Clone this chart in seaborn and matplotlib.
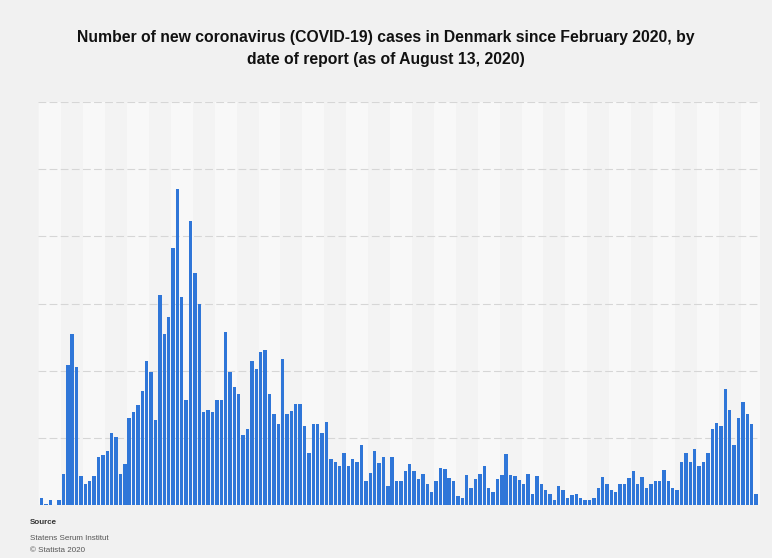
import numpy as np
import pandas as pd
import matplotlib
matplotlib.use("Agg")
import matplotlib.pyplot as plt
import seaborn as sns

# ---- data ----
new_cases = [
    11, 2, 8, 0, 8, 46, 208, 254, 205, 43,
    32, 35, 43, 72, 74, 81, 107, 101, 46, 61,
    130, 139, 149, 169, 215, 198, 126, 312, 254, 280,
    382, 471, 310, 156, 423, 346, 300, 139, 142, 139,
    156, 156, 258, 198, 176, 166, 104, 113, 215, 202,
    228, 231, 165, 136, 121, 218, 135, 140, 150, 150,
    117, 77, 121, 121, 107, 124, 68, 64, 58, 77,
    58, 68, 64, 90, 35, 48, 80, 62, 71, 28,
    72, 35, 35, 51, 61, 51, 38, 46, 32, 20,
    35, 55, 53, 40, 35, 13, 11, 45, 25, 38,
    46, 58, 25, 20, 38, 45, 76, 45, 43, 37,
    32, 46, 17, 43, 32, 22, 17, 8, 28, 22,
    11, 15, 17, 11, 8, 8, 11, 25, 41, 32,
    22, 20, 32, 32, 40, 51, 32, 41, 25, 32,
    35, 35, 52, 35, 25, 22, 64, 78, 64, 84,
    58, 64, 78, 113, 122, 117, 172, 142, 89, 130,
    153, 136, 121, 17,
]
report_dates = pd.date_range(end="2020-08-13", periods=len(new_cases)).strftime("%Y-%m-%d").tolist()

title = ("Number of new coronavirus (COVID-19) cases in Denmark since February 2020, by\n"
         "date of report (as of August 13, 2020)")
y_gridlines = [100, 200, 300, 400, 500, 600]

df = pd.DataFrame({"date": report_dates, "cases": new_cases})

# ---- figure ----
fig = plt.figure(figsize=(7.72, 5.58), dpi=100, facecolor="#f1f1f1")
ax = fig.add_axes([38 / 772, 1 - 505 / 558, (760 - 38) / 772, (505 - 102) / 558])
ax.set_facecolor("#f3f3f3")

n = len(new_cases)
for i, start in enumerate(range(0, n, 5)):
    if i % 2 == 0:
        ax.axvspan(start - 0.5, start + 4.5, color="#f8f8f8", zorder=0, lw=0)

sns.barplot(data=df, x="date", y="cases", color="#2f76d8", saturation=1,
            width=0.78, ax=ax, zorder=3)

ax.set_xlim(-0.8, n - 0.1)
ax.set_ylim(0, 600)
ax.set_yticks(y_gridlines)
ax.yaxis.grid(True, color="#d6d6d6", linestyle=(0, (7, 3)), linewidth=0.8, zorder=1)
ax.xaxis.grid(False)
ax.set_axisbelow(True)
ax.tick_params(left=False, bottom=False, labelleft=False, labelbottom=False)
ax.set_xlabel("")
ax.set_ylabel("")
for s in ax.spines.values():
    s.set_visible(False)
ax.axhline(0, color="#cfcfcf", lw=0.8, zorder=2)

fig.text(0.5, 1 - 48.5 / 558, title, ha="center", va="center", fontsize=11.3,
         fontweight="bold", family="Liberation Sans", color="#111111", linespacing=1.55)

fig.text(30 / 772, 1 - 523 / 558, "Source", ha="left", va="center", fontsize=5.8,
         fontweight="bold", family="Liberation Sans", color="#333333")
fig.text(30 / 772, 1 - 538 / 558, "Statens Serum Institut", ha="left", va="center",
         fontsize=5.8, family="Liberation Sans", color="#555555")
fig.text(30 / 772, 1 - 550 / 558, "© Statista 2020", ha="left", va="center",
         fontsize=5.8, family="Liberation Sans", color="#555555")

fig.savefig("out.png", dpi=100, facecolor=fig.get_facecolor())
